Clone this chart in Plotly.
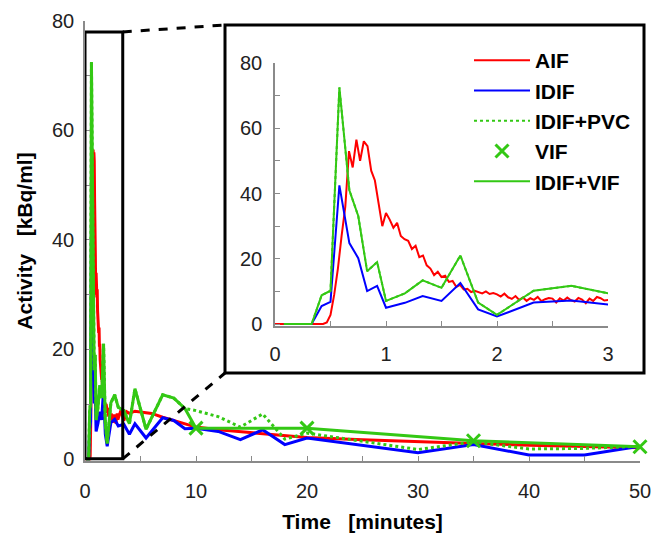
import plotly.graph_objects as go

# ---------------- data ----------------
# AIF (arterial sampling every 2 s for the first 3 minutes, then sparse)
AIF_EARLY_SEC = list(range(0, 182, 2))
AIF_EARLY_VAL = [0, 0, 0, 0, 0, 0, 0, 0, 0, 0, 0, 0, 0, 0,
                 0.5, 2.8, 9, 17, 27, 36, 53, 48, 56.5, 50, 56, 54.5, 47, 44, 37, 30,
                 34, 32, 29.5, 31, 27, 26, 25.5, 23, 24, 20.5, 21, 18, 17, 15, 16,
                 14.4, 14.8, 12.9, 13.2, 11.4, 12, 10.6, 10.8, 9.8, 10.2, 9.7, 9.4, 10,
                 9.2, 9.5, 9.1, 8.4, 9.3, 8.2, 7.7, 8.6, 7.4, 8.1, 7.1, 7.9, 7.4, 8.3,
                 7.0, 7.6, 8.0, 7.8, 6.6, 7.9, 7.2, 8.1, 7.3, 6.9, 8.0, 7.5, 6.4, 7.8,
                 7.1, 8.3, 7.9, 7.2, 7.4]
AIF_LATE_T = [3.25, 3.5, 3.75, 4, 4.5, 5, 6, 7, 8, 10, 12, 15, 20, 25, 30, 35, 40, 45, 50]
AIF_LATE_VAL = [8.9, 7.0, 8.6, 8.3, 8.7, 8.6, 8.3, 7.6, 7.0, 5.8, 5.3, 4.8, 3.9, 3.5, 3.1,
                2.8, 2.5, 2.2, 2.0]

# IDIF (image-derived input function)
IDIF_T = [0.08, 0.17, 0.25, 0.33, 0.42, 0.5, 0.58, 0.67, 0.75, 0.83, 0.92, 1.0, 1.17, 1.33,
          1.5, 1.67, 1.83, 2.0, 2.33, 2.67, 3.0, 3.5, 4.0, 4.5, 5.5, 7.0, 8.0, 9.0, 10,
          12, 14, 16, 18, 20, 30, 35, 40, 45, 50]
IDIF_VAL = [0, 0, 0, 0, 5.5, 6.8, 42.5, 24.8, 20.2, 10.1, 11.7, 5.0, 6.5, 8.6,
            7.1, 12.6, 4.5, 2.3, 6.6, 7.2, 6.0, 6.3, 4.5, 6.4, 3.8, 7.5, 7.0, 5.5, 5.6,
            5.0, 3.5, 5.3, 2.6, 3.8, 1.1, 2.6, 0.7, 0.7, 2.3]

# IDIF + partial volume correction
PVC_T = [0.08, 0.17, 0.25, 0.33, 0.42, 0.5, 0.58, 0.67, 0.75, 0.83, 0.92, 1.0, 1.17, 1.33,
         1.5, 1.67, 1.83, 2.0, 2.33, 2.67, 3.0, 3.5, 4.0, 4.5, 5.5, 7.0, 8.0, 9.0, 10,
         12, 14, 16, 18, 20, 30, 35, 40, 45, 50]
PVC_VAL = [0, 0, 0, 0, 8.8, 10.2, 72.5, 41, 33.1, 16.2, 19, 7.1, 9.4, 13.4,
           11.1, 21, 6.6, 2.8, 10.2, 11.7, 9.4, 8.8, 6.4, 12.8, 5.4, 11.7, 11.1, 9.2, 8.8,
           7.7, 5.8, 8.2, 3.6, 4.7, 1.7, 3.1, 1.8, 1.9, 2.3]

# VIF (venous samples)
VIF_T = [10, 20, 35, 50]
VIF_VAL = [5.6, 5.6, 3.3, 2.2]

# IDIF + VIF (early image-derived, late venous)
IV_T = [0.08, 0.17, 0.25, 0.33, 0.42, 0.5, 0.58, 0.67, 0.75, 0.83, 0.92, 1.0, 1.17, 1.33,
        1.5, 1.67, 1.83, 2.0, 2.33, 2.67, 3.0, 3.5, 4.0, 4.5, 5.5, 7.0, 8.0, 9.0, 10,
        20, 35, 50]
IV_VAL = [0, 0, 0, 0, 8.8, 10.2, 72.5, 41, 33.1, 16.2, 19, 7.1, 9.4, 13.4,
          11.1, 21, 6.6, 2.8, 10.2, 11.7, 9.4, 8.8, 6.4, 12.8, 5.4, 11.7, 11.1, 9.2, 5.6,
          5.6, 3.3, 2.2]

MAIN_X_TICKS = [0, 5, 10, 15, 20, 25, 30, 35, 40, 45, 50]
MAIN_X_LABELS = ["0", "", "10", "", "20", "", "30", "", "40", "", "50"]
Y_TICKS = [0, 10, 20, 30, 40, 50, 60, 70, 80]
Y_LABELS = ["0", "", "20", "", "40", "", "60", "", "80"]
INSET_X_TICKS = [0, 0.5, 1, 1.5, 2, 2.5, 3]
INSET_X_LABELS = ["0", "", "1", "", "2", "", "3"]

ZOOM_T_MAX = 3.4
ZOOM_Y_MAX = 78

# ---------------- styling / layout ----------------
W, H = 653, 538
RED = "#ff0000"
BLUE = "#0000ff"
GREEN = "#33c814"
FONT = "Liberation Sans, Arial, sans-serif"
AX_GRAY = "#8a8a8a"

MAIN_XR = [0, 50]
MAIN_YR = [-0.4, 80]
INS_XR = [0, 3]
INS_YR = [-0.6, 80]

main_xd = [85 / W, 640 / W]
main_yd = [(H - 461) / H, (H - 21) / H]
ins_xd = [275 / W, 608 / W]
ins_yd = [(H - 326) / H, (H - 63) / H]
inset_box = dict(x0=225 / W, x1=644 / W, y0=(H - 373) / H, y1=(H - 25) / H)


def main_to_paper(x, y):
    px = main_xd[0] + (x - MAIN_XR[0]) / (MAIN_XR[1] - MAIN_XR[0]) * (main_xd[1] - main_xd[0])
    py = main_yd[0] + (y - MAIN_YR[0]) / (MAIN_YR[1] - MAIN_YR[0]) * (main_yd[1] - main_yd[0])
    return px, py


aif_t = [s / 60 for s in AIF_EARLY_SEC] + AIF_LATE_T
aif_v = AIF_EARLY_VAL + AIF_LATE_VAL

fig = go.Figure()

series = [
    ("AIF", aif_t, aif_v, dict(color=RED), "lines"),
    ("IDIF", IDIF_T, IDIF_VAL, dict(color=BLUE), "lines"),
    ("IDIF+PVC", PVC_T, PVC_VAL, dict(color=GREEN, dash="dot"), "lines"),
    ("VIF", VIF_T, VIF_VAL, None, "markers"),
    ("IDIF+VIF", IV_T, IV_VAL, dict(color=GREEN), "lines"),
]

for rank, (name, t, v, line, mode) in enumerate(series):
    if mode == "lines":
        fig.add_trace(go.Scatter(x=t, y=v, mode="lines", name=name,
                                 line=dict(width=3, **line), showlegend=False,
                                 xaxis="x", yaxis="y", legendgroup=name))
        fig.add_trace(go.Scatter(x=t, y=v, mode="lines", name=name,
                                 line=dict(width=2, **line), showlegend=True,
                                 legendrank=rank, legendgroup=name,
                                 xaxis="x2", yaxis="y2"))
    else:
        fig.add_trace(go.Scatter(x=t, y=v, mode="markers", name=name,
                                 marker=dict(symbol="x-thin", size=13, color=GREEN,
                                             line=dict(width=3, color=GREEN)),
                                 cliponaxis=False, showlegend=True, legendrank=rank,
                                 legendgroup=name, xaxis="x", yaxis="y"))

axis_common = dict(showline=True, linecolor=AX_GRAY, linewidth=1.5, ticks="inside",
                   ticklen=5, tickcolor=AX_GRAY, showgrid=False, zeroline=False,
                   automargin=False,
                   tickfont=dict(family=FONT, size=20, color="#222222"))

shapes = [
    dict(type="rect", xref="paper", yref="paper", layer="below",
         fillcolor="white", line=dict(color="black", width=3), **inset_box),
    dict(type="rect", xref="x", yref="y", x0=0, x1=ZOOM_T_MAX, y0=0, y1=ZOOM_Y_MAX,
         line=dict(color="black", width=3), layer="above"),
]
tr = main_to_paper(ZOOM_T_MAX, ZOOM_Y_MAX)
br = main_to_paper(ZOOM_T_MAX, 0)
shapes.append(dict(type="line", xref="paper", yref="paper", x0=tr[0], y0=tr[1],
                   x1=inset_box["x0"], y1=inset_box["y1"],
                   line=dict(color="black", width=3, dash="dash")))
shapes.append(dict(type="line", xref="paper", yref="paper", x0=br[0], y0=br[1],
                   x1=inset_box["x0"], y1=inset_box["y0"],
                   line=dict(color="black", width=3, dash="dash")))

fig.update_layout(
    width=W, height=H,
    margin=dict(l=0, r=0, t=0, b=0, autoexpand=False),
    paper_bgcolor="white",
    plot_bgcolor="rgba(0,0,0,0)",
    font=dict(family=FONT, color="black"),
    xaxis=dict(domain=main_xd, range=MAIN_XR, tickvals=MAIN_X_TICKS,
               ticktext=MAIN_X_LABELS, ticklabelstandoff=11, anchor="y",
               title=dict(text="Time\u00a0\u00a0\u00a0[minutes]",
                          font=dict(family=FONT, size=21, color="black", weight="bold"),
                          standoff=14),
               **axis_common),
    yaxis=dict(domain=main_yd, range=MAIN_YR, tickvals=Y_TICKS, ticktext=Y_LABELS,
               ticklabelstandoff=5, anchor="x",
               title=dict(text="Activity\u00a0\u00a0\u00a0[kBq/ml]",
                          font=dict(family=FONT, size=21, color="black", weight="bold"),
                          standoff=14),
               **axis_common),
    xaxis2=dict(domain=ins_xd, range=INS_XR, tickvals=INSET_X_TICKS,
                ticktext=INSET_X_LABELS, ticklabelstandoff=9, anchor="y2",
                **axis_common),
    yaxis2=dict(domain=ins_yd, range=INS_YR, tickvals=Y_TICKS, ticktext=Y_LABELS,
                ticklabelstandoff=7, anchor="x2", **axis_common),
    shapes=shapes,
    legend=dict(x=469 / W, y=(H - 40) / H, xanchor="left", yanchor="top",
                bgcolor="rgba(0,0,0,0)", borderwidth=0, itemwidth=56,
                tracegroupgap=5, traceorder="normal",
                font=dict(family=FONT, size=21, color="black", weight="bold")),
)

fig.write_html("out.html")
